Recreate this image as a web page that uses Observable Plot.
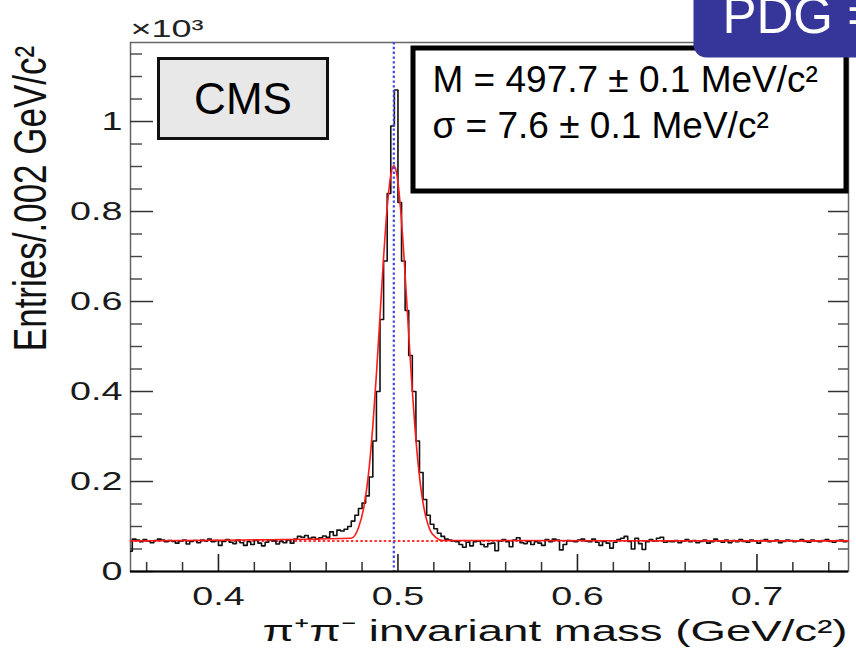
<!DOCTYPE html>
<html><head><meta charset="utf-8">
<script src="https://cdn.jsdelivr.net/npm/d3@7"></script>
<script src="https://cdn.jsdelivr.net/npm/@observablehq/plot@0.6"></script>
<style>html,body{margin:0;padding:0;background:#fff;overflow:hidden}</style>
</head><body><div id="chart"></div>
<script>
// ---- data, entries in units of 10^3 per 0.002 GeV/c^2 bin ----
const binStart = 0.35;
const binWidth = 0.002;
const counts = [
  0.045,0.072,0.070,0.066,0.071,0.068,0.064,0.069,0.072,0.070,
  0.066,0.069,0.067,0.063,0.068,0.070,0.061,0.067,0.069,0.064,
  0.070,0.068,0.072,0.066,0.069,0.058,0.067,0.071,0.065,0.062,
  0.070,0.064,0.058,0.066,0.060,0.069,0.063,0.057,0.065,0.070,
  0.068,0.061,0.067,0.064,0.070,0.063,0.072,0.078,0.076,0.080,
  0.074,0.076,0.072,0.075,0.079,0.076,0.088,0.080,0.092,0.090,
  0.094,0.100,0.112,0.125,0.140,0.152,0.168,0.21,0.29,0.40,
  0.56,0.69,0.84,0.99,1.07,0.82,0.69,0.58,0.48,0.40,
  0.29,0.22,0.16,0.125,0.105,0.095,0.085,0.078,0.072,0.070,
  0.068,0.066,0.060,0.054,0.065,0.057,0.066,0.068,0.060,0.055,
  0.062,0.063,0.046,0.068,0.071,0.066,0.055,0.070,0.075,0.064,
  0.062,0.067,0.060,0.066,0.063,0.058,0.071,0.066,0.072,0.070,
  0.048,0.060,0.069,0.068,0.066,0.070,0.072,0.068,0.066,0.072,
  0.065,0.058,0.067,0.063,0.052,0.065,0.071,0.074,0.078,0.067,
  0.050,0.074,0.062,0.049,0.066,0.071,0.068,0.074,0.076,0.065,
  0.067,0.066,0.069,0.064,0.068,0.071,0.066,0.069,0.064,0.067,
  0.070,0.063,0.066,0.072,0.068,0.065,0.070,0.064,0.069,0.066,
  0.071,0.067,0.065,0.070,0.068,0.063,0.069,0.071,0.066,0.068,
  0.070,0.064,0.067,0.070,0.069,0.066,0.068,0.071,0.067,0.065,
  0.070,0.068,0.066,0.069,0.071,0.067,0.065,0.069,0.070,0.066
];
// fitted curve (red)
const fitMass    = [0.351,0.474,0.478,0.481,0.484,0.486,0.488,0.490,0.492,0.494,0.496,0.4977,0.4995,0.5015,0.5035,0.5055,0.5075,0.5095,0.5115,0.5135,0.5155,0.518,0.521,0.525,0.751];
const fitEntries = [0.068,0.074,0.097,0.143,0.232,0.323,0.438,0.568,0.698,0.809,0.881,0.902,0.879,0.804,0.691,0.560,0.431,0.318,0.229,0.164,0.122,0.091,0.076,0.069,0.068];
const backgroundLevel = [0.068];
const pdgMass = [0.4977];
// ticks
const xMajor = [0.4,0.5,0.6,0.7];
const xMinor = [0.36,0.38,0.42,0.44,0.46,0.48,0.52,0.54,0.56,0.58,0.62,0.64,0.66,0.68,0.72,0.74];
const yMajor = [0,0.2,0.4,0.6,0.8,1];
const yMinor = [0.05,0.1,0.15,0.25,0.3,0.35,0.45,0.5,0.55,0.65,0.7,0.75,0.85,0.9,0.95,1.05,1.1,1.15];
// texts
const cmsLabel = ["CMS"];
const statLines = ["M = 497.7 ± 0.1 MeV/c²", "σ = 7.6 ± 0.1 MeV/c²"];
const pdgLabel = ["PDG ="];
const expLabel = ["×10³"];
const xTitle = ["π⁺π⁻ invariant mass (GeV/c²)"];
const yTitle = ["Entries/.002 GeV/c²"];

// ---- build tables ----
const hist = counts.map((c, i) => ({m: binStart + i * binWidth, n: c}));
hist.push({m: binStart + counts.length * binWidth, n: counts[counts.length - 1]});
const fit = fitMass.map((m, i) => ({m, n: fitEntries[i]}));

const W = 856, H = 648, mL = 130, mR = 8, mT = 42, mB = 77;
const iW = W - mL - mR, iH = H - mT - mB;
const font = "Liberation Sans, Arial, Helvetica, sans-serif";

const svg = Plot.plot({
  width: W, height: H,
  marginLeft: mL, marginRight: mR, marginTop: mT, marginBottom: mB,
  style: {fontFamily: font, background: "white", overflow: "hidden", color: "#111"},
  x: {domain: [0.351, 0.751]},
  y: {domain: [0, 1.1756]},
  marks: [
    Plot.frame({stroke: "#666", strokeWidth: 1.5}),
    Plot.tickX(xMajor, {x: d => d, insetTop: iH - 17, stroke: "#222", strokeWidth: 1.6}),
    Plot.tickX(xMinor, {x: d => d, insetTop: iH - 9, stroke: "#333", strokeWidth: 1.5}),
    Plot.tickY(yMajor, {y: d => d, insetRight: iW - 23, stroke: "#333", strokeWidth: 1.5}),
    Plot.tickY(yMinor, {y: d => d, insetRight: iW - 12, stroke: "#444", strokeWidth: 1.4}),
    Plot.tickY(yMajor, {y: d => d, insetLeft: iW - 20, stroke: "#333", strokeWidth: 1.5}),
    Plot.tickY(yMinor, {y: d => d, insetLeft: iW - 10, stroke: "#444", strokeWidth: 1.4}),
    Plot.axisX({ticks: xMajor, tickSize: 0, tickPadding: 15, fontSize: 26, tickFormat: d => String(d), label: null, fill: "#1a1a1a"}),
    Plot.axisY({ticks: yMajor, tickSize: 0, tickPadding: 8, fontSize: 26, tickFormat: d => String(d), label: null, fill: "#1a1a1a"}),
    Plot.ruleY(backgroundLevel, {y: d => d, stroke: "#ff3333", strokeWidth: 2, strokeDasharray: "2.5,2.2"}),
    Plot.line(hist, {x: "m", y: "n", curve: "step-after", stroke: "#111", strokeWidth: 1.6, clip: true}),
    Plot.line(fit, {x: "m", y: "n", curve: "monotone-x", stroke: "#ff1a1a", strokeWidth: 1.6}),
    Plot.ruleX(pdgMass, {x: d => d, stroke: "#4646ee", strokeWidth: 2.2, strokeDasharray: "2.4,2.4"}),
    Plot.ruleY([0], {y: d => d, stroke: "#000", strokeWidth: 1.8}),
    // CMS label box
    Plot.frame({fill: "#e8e8e8", stroke: "#111", strokeWidth: 3, insetLeft: 28, insetRight: 521, insetTop: 16, insetBottom: 433}),
    Plot.text(cmsLabel, {text: d => d, frameAnchor: "top-left", dx: 112.5, dy: 71, textAnchor: "middle", lineAnchor: "bottom", fontSize: 44, fill: "#000"}),
    // stats box
    Plot.frame({fill: "white", stroke: "#000", strokeWidth: 5, insetLeft: 282.5, insetRight: 2.5, insetTop: 5.5, insetBottom: 380.5}),
    Plot.text(statLines, {text: d => d, filter: (d, i) => i === 0, frameAnchor: "top-left", dx: 302, dy: 49, textAnchor: "start", lineAnchor: "bottom", fontSize: 37, fill: "#000"}),
    Plot.text(statLines, {text: d => d, filter: (d, i) => i === 1, frameAnchor: "top-left", dx: 302, dy: 95, textAnchor: "start", lineAnchor: "bottom", fontSize: 37, fill: "#000"}),
    // PDG tag
    Plot.frame({fill: "#36369a", stroke: "none", insetLeft: 563, insetRight: -40, insetTop: -80, insetBottom: 514, rx: 13}),
    Plot.text(pdgLabel, {text: d => d, frameAnchor: "top-left", dx: 592, dy: -10, textAnchor: "start", lineAnchor: "bottom", fontSize: 51, fill: "white"}),
    // exponent and titles
    Plot.text(expLabel, {text: d => d, frameAnchor: "top-left", dy: -6, textAnchor: "start", lineAnchor: "bottom", fontSize: 24, fill: "#222"}),
    Plot.text(xTitle, {text: d => d, frameAnchor: "bottom-right", dx: -1, dy: 69, textAnchor: "end", lineAnchor: "bottom", fontSize: 30, fill: "#111"}),
    Plot.text(yTitle, {text: d => d, frameAnchor: "top-left", dx: -85, dy: 156, rotate: -90, textAnchor: "middle", lineAnchor: "bottom", fontSize: 35, fill: "#111"})
  ]
});

// horizontal stretch of the ROOT-style axis texts (the original picture is widened)
function widen(el, s) {
  const t = el.getAttribute("transform") || "";
  el.setAttribute("transform", t.includes("rotate") ? t.replace("rotate", `scale(${s},1) rotate`) : `${t} scale(${s},1)`);
}
const byLabel = {"x-axis tick label": 1.45, "y-axis tick label": 1.45};
d3.select(svg).selectAll("g[aria-label]").each(function () {
  const s = byLabel[this.getAttribute("aria-label")];
  if (s) d3.select(this).selectAll("text").each(function () { widen(this, s); });
});
const byText = new Map([[expLabel[0], 1.5], [xTitle[0], 1.52], [yTitle[0], 1.3]]);
d3.select(svg).selectAll("text").each(function () {
  const s = byText.get(this.textContent);
  if (s) widen(this, s);
});
document.getElementById("chart").appendChild(svg);
</script></body></html>
